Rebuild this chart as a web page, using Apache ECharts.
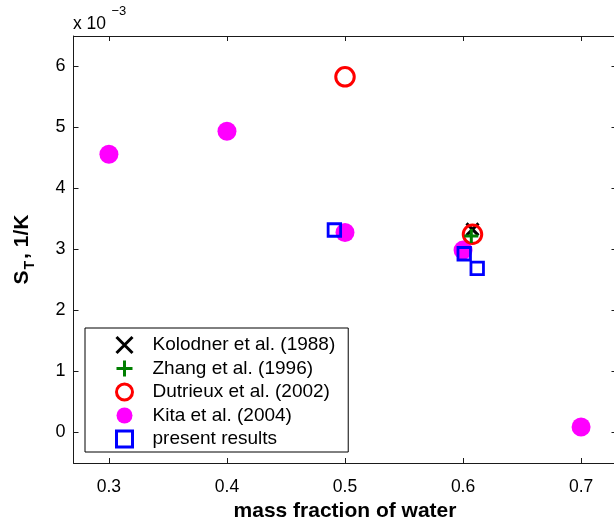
<!DOCTYPE html>
<html><head><meta charset="utf-8">
<script src="https://cdn.jsdelivr.net/npm/echarts@6/dist/echarts.min.js"></script>
<style>html,body{margin:0;padding:0;background:#fff}#c{width:614px;height:523px}</style>
</head><body><div id="c"></div>
<script>
// Values of S_T are in units of 1e-3 1/K (axis shows "x 10^-3")
const xTicks = [0.3, 0.4, 0.5, 0.6, 0.7];
const yTicks = [0, 1, 2, 3, 4, 5, 6];
const xRange = [0.27, 0.73];
const yRange = [-0.5, 6.5];

const kolodnerX = [0.608];
const kolodnerY = [3.33];
const zhangX = [0.607];
const zhangY = [3.22];
const dutrieuxX = [0.5, 0.608];
const dutrieuxY = [5.83, 3.25];
const kitaX = [0.3, 0.4, 0.5, 0.6, 0.7];
const kitaY = [4.56, 4.94, 3.28, 2.99, 0.09];
const presentX = [0.491, 0.601, 0.612];
const presentY = [3.32, 2.93, 2.69];

const names = ['Kolodner et al. (1988)', 'Zhang et al. (1996)', 'Dutrieux et al. (2002)', 'Kita et al. (2004)', 'present results'];

const pts = (xs, ys) => xs.map((x, i) => [x, ys[i]]);
const FONT = 'Liberation Sans, Arial, Helvetica, sans-serif';
const AX = '#1a1a1a';

const xPath = 'path://M0 0 L10 10 M10 0 L0 10';
const plusPath = 'path://M5 0 L5 10 M0 5 L10 5';

function baseAxis(extra) {
  return Object.assign({
    type: 'value',
    axisLine: {show: true, onZero: false, lineStyle: {color: AX, width: 1}},
    splitLine: {show: false},
  }, extra);
}

const chart = echarts.init(document.getElementById('c'), null, {renderer: 'canvas'});
chart.setOption({
  animation: false,
  backgroundColor: '#fff',
  textStyle: {fontFamily: FONT},
  grid: {left: 73.5, top: 36, width: 543, height: 427, containLabel: false, outerBoundsMode: 'none'},
  xAxis: [
    baseAxis({
      min: xRange[0], max: xRange[1], position: 'bottom',
      axisTick: {show: true, inside: true, length: 5, customValues: xTicks, lineStyle: {color: AX}},
      axisLabel: {show: true, customValues: xTicks, margin: 15, fontSize: 17.5, color: '#000', fontFamily: FONT},
      name: 'mass fraction of water', nameLocation: 'middle', nameGap: 36,
      nameTextStyle: {fontSize: 21, fontWeight: 'bold', color: '#000', fontFamily: FONT}
    }),
    baseAxis({
      min: xRange[0], max: xRange[1], position: 'top',
      axisTick: {show: true, inside: true, length: 5, customValues: xTicks, lineStyle: {color: AX}},
      axisLabel: {show: false}
    })
  ],
  yAxis: [
    baseAxis({
      min: yRange[0], max: yRange[1], position: 'left',
      axisTick: {show: true, inside: true, length: 5, customValues: yTicks, lineStyle: {color: AX}},
      axisLabel: {show: true, customValues: yTicks, margin: 8, fontSize: 18, color: '#000', fontFamily: FONT},
      name: '{s|S}{t|T}{s|, 1/K}', nameLocation: 'middle', nameGap: 36, nameRotate: 90,
      nameTextStyle: {
        color: '#000', fontFamily: FONT,
        rich: {
          s: {fontSize: 21, fontWeight: 'bold', color: '#000', fontFamily: FONT, lineHeight: 30, verticalAlign: 'middle'},
          t: {fontSize: 14, fontWeight: 'bold', color: '#000', fontFamily: FONT, lineHeight: 15, verticalAlign: 'bottom', padding: [0, 2, 0, 1]}
        }
      }
    }),
    baseAxis({
      min: yRange[0], max: yRange[1], position: 'right',
      axisTick: {show: true, inside: true, length: 5, customValues: yTicks, lineStyle: {color: AX}},
      axisLabel: {show: false}
    })
  ],
  legend: {
    show: true, orient: 'vertical', left: 85, top: 328,
    data: names,
    backgroundColor: '#fff', borderColor: '#000', borderWidth: 1,
    padding: [7.5, 13, 3.5, 30], itemGap: 4.5, itemWidth: 16, itemHeight: 16,
    itemStyle: {borderWidth: 3, opacity: 1},
    textStyle: {fontSize: 19, color: '#000', fontFamily: FONT, lineHeight: 19, padding: [0, 0, 0, 15]},
    selectedMode: false
  },
  graphic: [
    {type: 'text', left: 73, top: 15, style: {text: 'x 10', fontSize: 17.5, fill: '#000', fontFamily: FONT}},
    {type: 'text', left: 111.5, top: 5, style: {text: '\u22123', fontSize: 13, fill: '#000', fontFamily: FONT}}
  ],
  series: [
    {
      name: names[0], type: 'scatter', data: pts(kolodnerX, kolodnerY),
      symbol: xPath, symbolSize: 12,
      itemStyle: {color: 'rgba(0,0,0,0)', borderColor: '#000', borderWidth: 3, opacity: 1},
      emphasis: {disabled: true}, z: 2
    },
    {
      name: names[1], type: 'scatter', data: pts(zhangX, zhangY),
      symbol: plusPath, symbolSize: 14,
      itemStyle: {color: 'rgba(0,0,0,0)', borderColor: '#007f00', borderWidth: 3, opacity: 1},
      emphasis: {disabled: true}, z: 4
    },
    {
      name: names[2], type: 'scatter', data: pts(dutrieuxX, dutrieuxY),
      symbol: 'circle', symbolSize: 18.5,
      itemStyle: {color: 'rgba(255,255,255,0)', borderColor: '#ff0000', borderWidth: 3, opacity: 1},
      emphasis: {disabled: true}, z: 3
    },
    {
      name: names[3], type: 'scatter', data: pts(kitaX, kitaY),
      symbol: 'circle', symbolSize: 19,
      itemStyle: {color: '#ff00ff', borderWidth: 0, opacity: 1},
      emphasis: {disabled: true}, z: 2
    },
    {
      name: names[4], type: 'scatter', data: pts(presentX, presentY),
      symbol: 'rect', symbolSize: 12.5,
      itemStyle: {color: 'rgba(255,255,255,0)', borderColor: '#0000ff', borderWidth: 2.8, opacity: 1},
      emphasis: {disabled: true}, z: 5
    }
  ]
});
</script></body></html>
